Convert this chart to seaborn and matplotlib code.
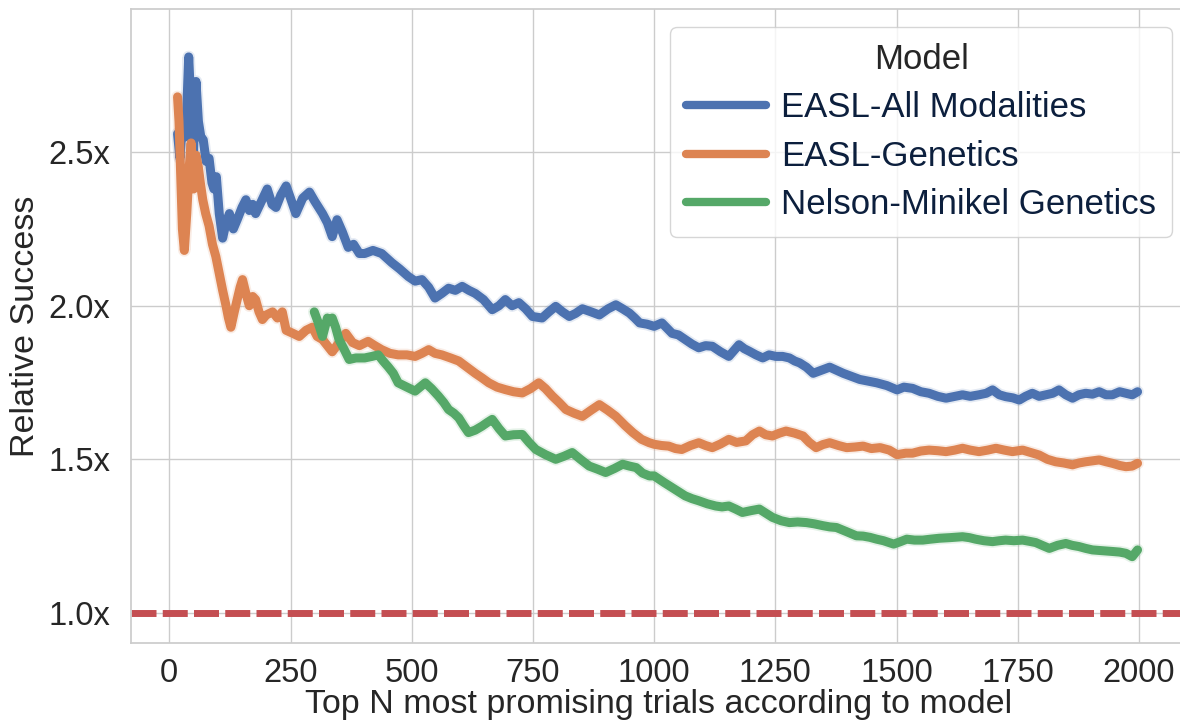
import matplotlib
matplotlib.use("Agg")
import matplotlib.pyplot as plt
import seaborn as sns
import pandas as pd

# valeurs (N, succes relatif)
n_all = [17, 22, 28, 34, 40, 46, 50, 55, 60, 65, 70, 76, 82, 88, 92, 97, 103, 110, 117, 124,
         132, 140, 150, 158, 165, 172, 178, 190, 202, 212, 220, 230, 241, 250, 261, 275, 289, 300, 316, 326,
         336, 346, 357, 369, 380, 392, 403, 420, 438, 459, 475, 493, 507, 521, 535, 548, 562, 576, 590, 604,
         618, 631, 648, 666, 680, 693, 707, 721, 735, 749, 769, 783, 797, 811, 825, 838, 852, 870, 887, 905,
         921, 935, 949, 960, 970, 985, 1000, 1016, 1037, 1050, 1064, 1078, 1092, 1106, 1120, 1137, 1154, 1165, 1175, 1186,
         1196, 1210, 1224, 1237, 1251, 1265, 1279, 1290, 1300, 1314, 1328, 1345, 1362, 1376, 1390, 1407, 1424, 1440, 1459, 1480,
         1501, 1515, 1533, 1550, 1567, 1585, 1602, 1620, 1636, 1652, 1670, 1685, 1698, 1712, 1725, 1740, 1753, 1766, 1780, 1794,
         1808, 1822, 1835, 1849, 1863, 1876, 1890, 1904, 1918, 1932, 1945, 1960, 1973, 1986, 1997]
v_all = [2.56, 2.48, 2.62, 2.55, 2.81, 2.60, 2.50, 2.73, 2.60, 2.55, 2.54, 2.47, 2.48, 2.40, 2.38, 2.42, 2.30, 2.22, 2.27, 2.30,
         2.25, 2.28, 2.32, 2.345, 2.31, 2.33, 2.30, 2.34, 2.38, 2.33, 2.32, 2.36, 2.39, 2.35, 2.30, 2.35, 2.37, 2.34, 2.30, 2.27,
         2.225, 2.28, 2.24, 2.19, 2.20, 2.17, 2.17, 2.18, 2.17, 2.14, 2.12, 2.095, 2.08, 2.085, 2.06, 2.025, 2.04, 2.057, 2.05, 2.063,
         2.05, 2.04, 2.02, 1.987, 2.00, 2.02, 2.00, 2.01, 1.99, 1.965, 1.96, 1.98, 1.998, 1.98, 1.965, 1.975, 1.99, 1.98, 1.97, 1.99,
         2.003, 1.99, 1.976, 1.96, 1.944, 1.94, 1.933, 1.944, 1.91, 1.905, 1.89, 1.875, 1.863, 1.87, 1.868, 1.85, 1.835, 1.855, 1.873, 1.86,
         1.852, 1.84, 1.83, 1.84, 1.835, 1.835, 1.83, 1.82, 1.814, 1.80, 1.78, 1.79, 1.80, 1.79, 1.78, 1.77, 1.76, 1.755, 1.749, 1.74,
         1.726, 1.735, 1.731, 1.72, 1.715, 1.705, 1.699, 1.705, 1.71, 1.705, 1.71, 1.715, 1.726, 1.71, 1.704, 1.70, 1.693, 1.705, 1.715, 1.705,
         1.71, 1.715, 1.726, 1.71, 1.699, 1.71, 1.715, 1.712, 1.72, 1.71, 1.71, 1.72, 1.715, 1.71, 1.72]

n_gen = [17, 20, 24, 27, 31, 36, 41, 45, 50, 55, 60, 64, 69, 75, 82, 89, 96, 103, 110, 117,
         122, 127, 134, 140, 146, 151, 158, 165, 172, 178, 185, 192, 200, 213, 223, 233, 241, 255, 268, 282,
         295, 305, 316, 326, 336, 350, 364, 378, 392, 410, 424, 438, 455, 472, 490, 507, 521, 535, 548, 562,
         580, 597, 614, 631, 645, 659, 676, 693, 710, 728, 745, 762, 776, 790, 804, 818, 835, 852, 870, 887,
         904, 921, 940, 956, 974, 990, 1000, 1015, 1030, 1044, 1057, 1075, 1092, 1106, 1120, 1137, 1154, 1170, 1189, 1203,
         1217, 1230, 1244, 1258, 1272, 1290, 1307, 1320, 1334, 1348, 1362, 1380, 1397, 1414, 1431, 1448, 1466, 1485, 1501, 1519,
         1533, 1550, 1567, 1585, 1602, 1620, 1636, 1652, 1670, 1688, 1705, 1722, 1739, 1760, 1777, 1794, 1811, 1828, 1845, 1863,
         1876, 1890, 1904, 1918, 1932, 1945, 1960, 1973, 1986, 1997]
v_gen = [2.68, 2.60, 2.40, 2.25, 2.18, 2.30, 2.45, 2.53, 2.38, 2.49, 2.45, 2.40, 2.345, 2.30, 2.26, 2.20, 2.16, 2.105, 2.05, 2.00,
         1.96, 1.93, 1.98, 2.02, 2.06, 2.085, 2.04, 2.00, 2.03, 2.02, 1.98, 1.955, 1.97, 1.98, 1.96, 1.98, 1.92, 1.91, 1.90, 1.92,
         1.93, 1.90, 1.89, 1.87, 1.85, 1.88, 1.91, 1.88, 1.87, 1.884, 1.87, 1.857, 1.845, 1.84, 1.84, 1.835, 1.845, 1.857, 1.845, 1.84,
         1.83, 1.82, 1.80, 1.78, 1.765, 1.749, 1.735, 1.727, 1.72, 1.716, 1.73, 1.749, 1.73, 1.706, 1.685, 1.662, 1.65, 1.64, 1.66, 1.678,
         1.66, 1.64, 1.61, 1.587, 1.565, 1.554, 1.549, 1.545, 1.543, 1.535, 1.532, 1.545, 1.554, 1.545, 1.538, 1.55, 1.565, 1.555, 1.56, 1.58,
         1.592, 1.58, 1.576, 1.585, 1.592, 1.585, 1.576, 1.555, 1.538, 1.548, 1.554, 1.545, 1.538, 1.54, 1.543, 1.535, 1.538, 1.53, 1.515, 1.52,
         1.52, 1.527, 1.53, 1.528, 1.525, 1.53, 1.536, 1.53, 1.525, 1.53, 1.536, 1.53, 1.525, 1.53, 1.522, 1.514, 1.50, 1.492, 1.488, 1.482,
         1.488, 1.492, 1.495, 1.498, 1.492, 1.487, 1.48, 1.476, 1.478, 1.487]

n_nm = [299, 306, 316, 321, 326, 331, 336, 343, 350, 360, 371, 385, 403, 418, 431, 441, 452, 462, 472, 490,
        507, 517, 528, 541, 555, 566, 576, 587, 597, 607, 617, 631, 645, 656, 666, 680, 693, 710, 728, 742,
        756, 776, 797, 814, 831, 848, 866, 883, 900, 918, 935, 949, 963, 976, 990, 1000, 1020, 1037, 1050, 1064,
        1078, 1092, 1110, 1127, 1140, 1154, 1168, 1182, 1200, 1217, 1230, 1244, 1262, 1279, 1296, 1314, 1330, 1348, 1362, 1376,
        1396, 1417, 1431, 1445, 1459, 1473, 1494, 1508, 1521, 1537, 1554, 1570, 1588, 1610, 1636, 1650, 1663, 1680, 1698, 1712,
        1725, 1742, 1760, 1774, 1787, 1800, 1815, 1832, 1849, 1862, 1876, 1890, 1904, 1920, 1945, 1960, 1973, 1986, 1997]
v_nm = [1.98, 1.95, 1.90, 1.93, 1.96, 1.95, 1.96, 1.93, 1.89, 1.86, 1.825, 1.83, 1.83, 1.835, 1.84, 1.82, 1.80, 1.78, 1.749, 1.735,
        1.722, 1.735, 1.749, 1.73, 1.706, 1.685, 1.662, 1.65, 1.635, 1.61, 1.587, 1.595, 1.608, 1.62, 1.63, 1.60, 1.576, 1.58, 1.581, 1.555,
        1.532, 1.515, 1.50, 1.51, 1.522, 1.50, 1.478, 1.468, 1.457, 1.47, 1.484, 1.478, 1.473, 1.455, 1.446, 1.446, 1.425, 1.408, 1.395, 1.381,
        1.372, 1.365, 1.355, 1.348, 1.345, 1.348, 1.338, 1.327, 1.333, 1.338, 1.325, 1.311, 1.30, 1.294, 1.296, 1.294, 1.29, 1.284, 1.28, 1.278,
        1.265, 1.251, 1.25, 1.246, 1.24, 1.235, 1.224, 1.232, 1.24, 1.237, 1.237, 1.24, 1.243, 1.245, 1.248, 1.245, 1.24, 1.235, 1.232, 1.235,
        1.237, 1.235, 1.237, 1.233, 1.229, 1.22, 1.21, 1.22, 1.226, 1.22, 1.216, 1.21, 1.205, 1.203, 1.20, 1.198, 1.194, 1.183, 1.205]

models = ["EASL-All Modalities", "EASL-Genetics", "Nelson-Minikel Genetics"]
baseline = 1.0
y_ticks = [1.0, 1.5, 2.0, 2.5]
x_ticks = [0, 250, 500, 750, 1000, 1250, 1500, 1750, 2000]

df = pd.concat([
    pd.DataFrame({"N": n_all, "succes": v_all, "Model": models[0]}),
    pd.DataFrame({"N": n_gen, "succes": v_gen, "Model": models[1]}),
    pd.DataFrame({"N": n_nm, "succes": v_nm, "Model": models[2]}),
])

sns.set_theme(style="whitegrid")
plt.rcParams['font.family'] = ['Liberation Sans', 'DejaVu Sans']

couleurs = sns.color_palette("deep")
palette = {models[0]: couleurs[0], models[1]: couleurs[1], models[2]: couleurs[2]}

fig = plt.figure(figsize=(11.8, 7.24), dpi=100)
ax = fig.add_axes([131 / 1180, 81 / 724, 1056 / 1180, 634 / 724])

# halo clair autour des courbes (comme la bande de confiance)
sns.lineplot(data=df, x="N", y="succes", hue="Model", palette=palette, linewidth=9,
             alpha=0.15, errorbar=None, legend=False, ax=ax)
sns.lineplot(data=df, x="N", y="succes", hue="Model", palette=palette, linewidth=6.5,
             errorbar=None, ax=ax)

ax.axhline(baseline, color=couleurs[3], linewidth=5, linestyle=(0, (3.6, 0.9)))

ax.set_xlim(-79, 2099)
ax.set_ylim(0.902, 2.966)
ax.set_xticks(x_ticks)
ax.set_yticks(y_ticks)
ax.set_yticklabels([f"{t:.1f}x" for t in y_ticks])
ax.tick_params(axis="both", labelsize=23.5, colors="#262626")
ax.tick_params(axis="y", pad=9)
ax.tick_params(axis="x", pad=5)

ax.set_xlabel("Top N most promising trials according to model", fontsize=24.5, color="#262626", labelpad=0)
ax.set_ylabel("Relative Success", fontsize=24.5, color="#262626", labelpad=5)

handles, labels = ax.get_legend_handles_labels()
leg = ax.legend(handles, labels, title="Model", loc="upper right",
                bbox_to_anchor=(1172 / 1180, 1 - 27 / 724), bbox_transform=fig.transFigure,
                borderaxespad=0, fontsize=25, title_fontsize=25, labelspacing=0.45,
                handlelength=2.3, handletextpad=0.45, borderpad=0.45, frameon=True)
for h in leg.legend_handles:
    h.set_linewidth(6)
for t in leg.get_texts():
    t.set_color("#0c1f3d")
leg.get_title().set_color("#262626")

fig.savefig("out.png", dpi=100)
